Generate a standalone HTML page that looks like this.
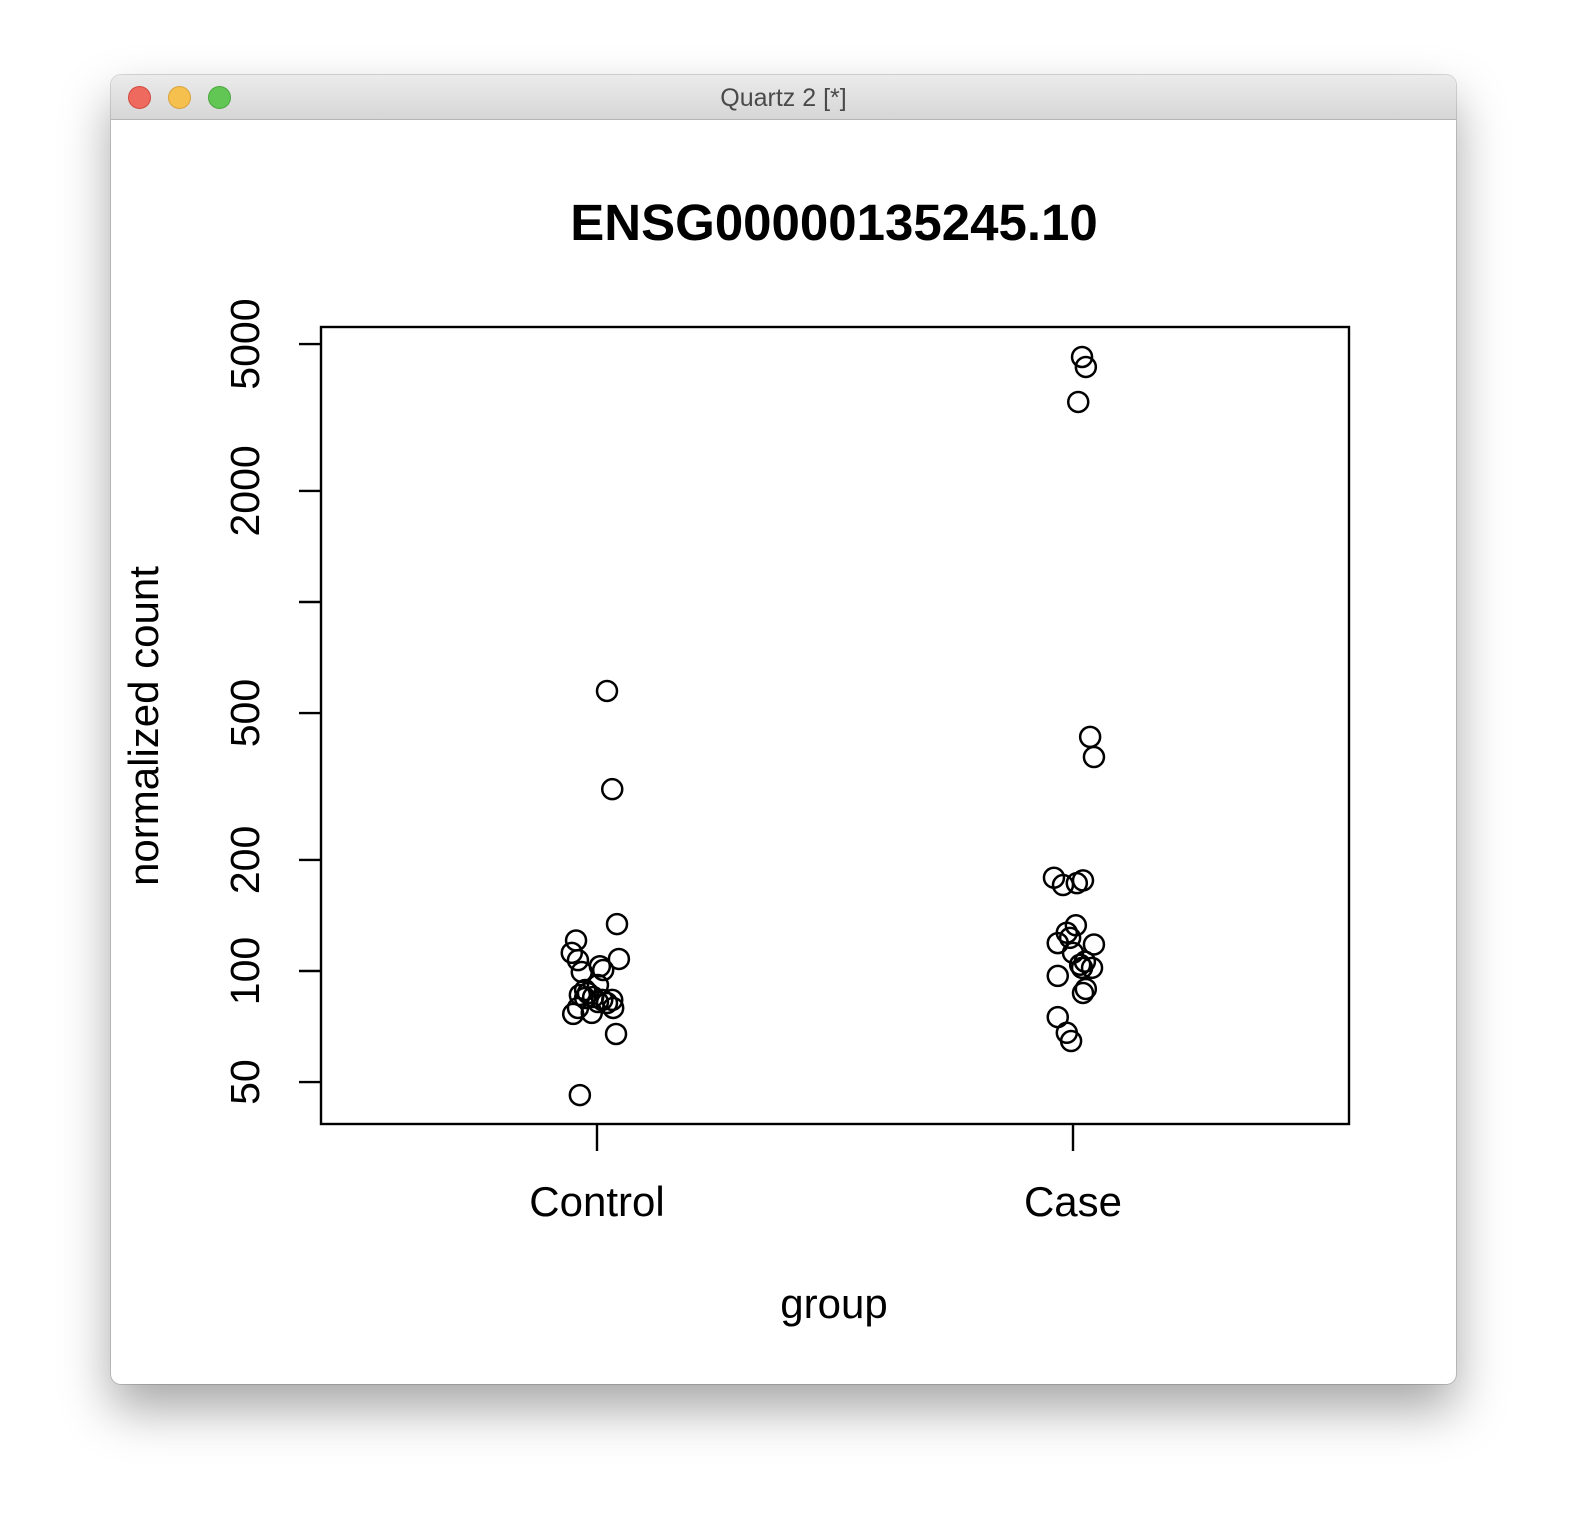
<!DOCTYPE html>
<html><head><meta charset="utf-8">
<style>
html,body{margin:0;padding:0;background:#fff;width:1574px;height:1538px;overflow:hidden;}
#win{position:absolute;left:111px;top:75px;width:1345px;height:1309px;background:#fff;border-radius:10px;box-shadow:0 25px 50px rgba(0,0,0,0.35),0 0 0 1px rgba(0,0,0,0.15);overflow:hidden;}
#bar{position:absolute;left:0;top:0;width:100%;height:44px;background:linear-gradient(#ebebeb,#d6d6d6);border-bottom:1px solid #b5b5b5;font-family:"Liberation Sans",sans-serif;font-size:25px;color:#4a4a4a;text-align:center;line-height:46px;}
.dot{position:absolute;top:11px;width:23px;height:23px;border-radius:50%;box-sizing:border-box;}
svg{position:absolute;left:0;top:0;}
</style></head><body>
<div id="win">
<div id="bar">Quartz 2 [*]
<div class="dot" style="left:17px;background:#ee6a5f;border:1px solid #d2493f"></div>
<div class="dot" style="left:57px;background:#f6c04f;border:1px solid #d9a23a"></div>
<div class="dot" style="left:97px;background:#62c655;border:1px solid #4ba83f"></div>
</div>
</div>
<svg id="chart" width="1574" height="1538"></svg>
<script>
const categories=["Control","Case"];
const controlValues=[574,311,134,121,112,107,107.8,103,99.4,100.6,91.6,88.8,86.1,87.1,85,83.5,81.9,82.4,79.4,79.4,76.5,77,67.5,46.1,84.5,83.5];
const controlJitter=[0.021,0.032,0.042,-0.044,-0.053,-0.040,0.046,0.006,-0.032,0.013,0.002,-0.025,-0.036,-0.019,-0.008,0.032,0.021,0.002,0.034,-0.040,-0.050,-0.011,0.040,-0.036,-0.025,0.011];
const caseValues=[4613,4335,3484,431,380,179,171,173,176,133,127,123,119,112,118,106,102,102,104,97,87.2,89.4,75,68,64.6];
const caseJitter=[0.019,0.027,0.011,0.036,0.044,-0.040,-0.021,0.008,0.021,0.006,-0.013,-0.006,-0.032,0.000,0.044,0.025,0.019,0.040,0.015,-0.032,0.021,0.027,-0.032,-0.013,-0.004];
const yTicks=[50,100,200,500,1000,2000,5000];
const yTickLabels=["50","100","200","500","","2000","5000"];
const svg=document.getElementById('chart');
const NS="http://www.w3.org/2000/svg";
const L=321,R=1349,T=327,B=1124;
function yScale(v){return 971-369*Math.log10(v/100);}
function xScale(g){return 597+(g-1)*476;}
function mk(tag,attrs){const e=document.createElementNS(NS,tag);for(const k in attrs)e.setAttribute(k,attrs[k]);svg.appendChild(e);return e;}
const F='"Liberation Sans",Arial,sans-serif';
let t=mk('text',{x:834,y:240,'text-anchor':'middle','font-family':F,'font-size':51,'font-weight':'bold'});t.textContent="ENSG00000135245.10";


let box=mk('rect',{x:L,y:T,width:R-L,height:B-T,fill:'none',stroke:'#000','stroke-width':2.4});


yTicks.forEach((v,i)=>{const y=yScale(v);
 let l=mk('line',{x1:L,x2:L-22,y1:y,y2:y,stroke:'#000','stroke-width':2.4});
 
 
 if(yTickLabels[i]){let tx=mk('text',{x:0,y:0,transform:`translate(259,${y}) rotate(-90)`,'text-anchor':'middle','font-family':F,'font-size':41});tx.textContent=yTickLabels[i];
 
 }
});
categories.forEach((c,i)=>{const x=xScale(i+1);
 let l=mk('line',{x1:x,x2:x,y1:B,y2:B+27,stroke:'#000','stroke-width':2.4});
 
 
 let tx=mk('text',{x:x,y:1216,'text-anchor':'middle','font-family':F,'font-size':42});tx.textContent=c;
 
 
});
let yl=mk('text',{x:0,y:0,transform:'translate(158,726) rotate(-90)','text-anchor':'middle','font-family':F,'font-size':42});yl.textContent="normalized count";


let xl=mk('text',{x:834,y:1318,'text-anchor':'middle','font-family':F,'font-size':42});xl.textContent="group";


function pts(vals,jit,g,name){vals.forEach((v,i)=>{
 let c=mk('circle',{cx:xScale(g+jit[i]),cy:yScale(v),r:10,fill:'none',stroke:'#000','stroke-width':2.5});
 
 
});}
pts(controlValues,controlJitter,1,'control-point');
pts(caseValues,caseJitter,2,'case-point');
</script>
</body></html>
